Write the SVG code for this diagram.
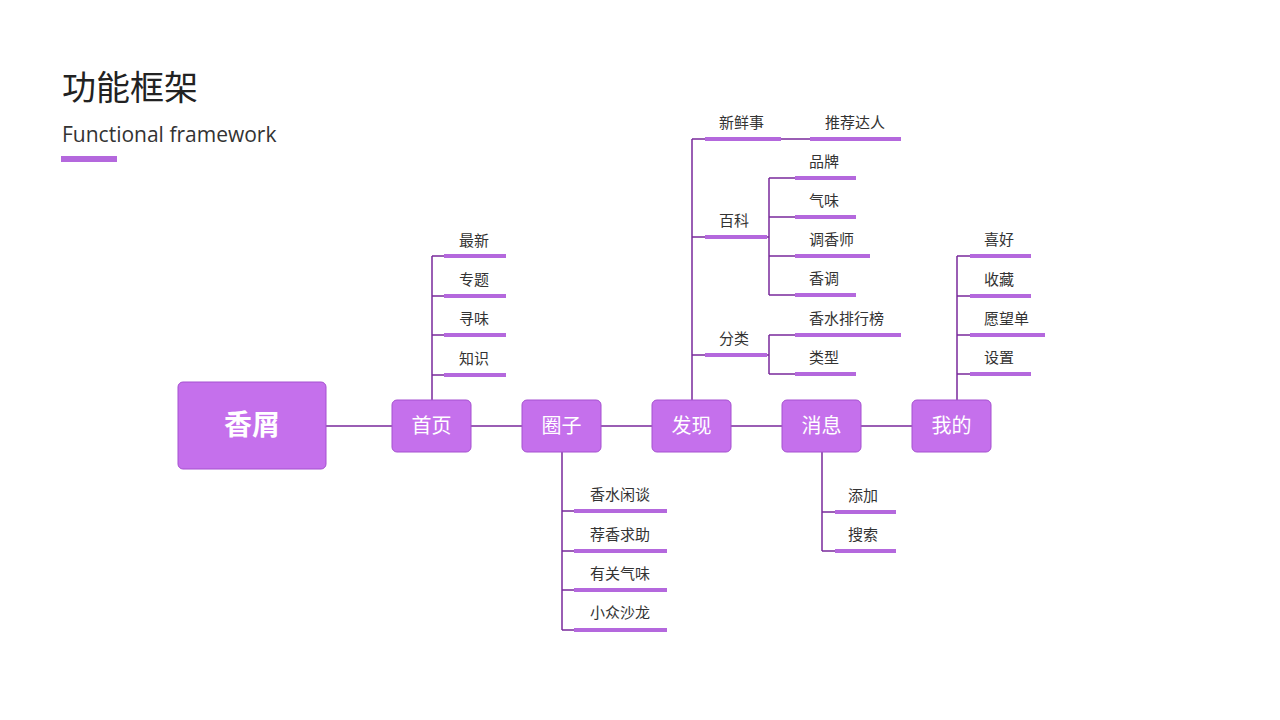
<svg xmlns="http://www.w3.org/2000/svg" width="1280" height="720" viewBox="0 0 1280 720">
<style>
text{font-family:"Noto Sans CJK SC","Liberation Sans",sans-serif}
.l{font-size:15px;fill:#333}
.bx{fill:#c570ec;stroke:#a550d0;stroke-width:1}
.bt{font-size:20px;fill:#fff;text-anchor:middle}
.bar{stroke:#b468dd;stroke-width:4}
.ln{stroke:#7a2a9c;stroke-width:1.5;fill:none}
</style>
<rect width="1280" height="720" fill="#fff"/>
<text x="62" y="100" font-size="34" fill="#222">功能框架</text>
<text x="62" y="142" font-size="21" fill="#333" style="font-family:'Open Sans','Liberation Sans',sans-serif">Functional framework</text>
<rect x="61" y="156" width="56" height="6" fill="#b468dd"/>
<g id="connectors">
<path class="ln" d="M326 426H912 M432 256V400 M432 256H444 M432 296H444 M432 335H444 M432 375H444 M562 452V630 M562 511H574 M562 551H574 M562 590H574 M562 630H574 M692 139V400 M692 139H705 M692 237H705 M692 355H705 M781 139H810 M767 237H769 M769 178V295 M769 178H795 M769 217H795 M769 256H795 M769 295H795 M767 355H769 M769 335V374 M769 335H795 M769 374H795 M822 452V551 M822 512H835 M822 551H835 M957 256V400 M957 256H970 M957 296H970 M957 335H970 M957 374H970"/>
<path class="bar" d="M444 256H506 M444 296H506 M444 335H506 M444 375H506 M574 511H667 M574 551H667 M574 590H667 M574 630H667 M705 139H781 M810 139H901 M705 237H767 M795 178H856 M795 217H856 M795 256H870 M795 295H856 M705 355H767 M795 335H901 M795 374H856 M835 512H896 M835 551H896 M970 256H1031 M970 296H1031 M970 335H1045 M970 374H1031"/>
</g>
<g id="root"><rect class="bx" x="178" y="382" width="148" height="87" rx="5"/><text x="252" y="435" font-size="28" font-weight="bold" fill="#fff" text-anchor="middle">香屑</text></g>
<g id="n1"><rect class="bx" x="392" y="400" width="79" height="52" rx="5"/><text class="bt" x="431.5" y="433">首页</text></g>
<g id="n2"><rect class="bx" x="522" y="400" width="79" height="52" rx="5"/><text class="bt" x="561.5" y="433">圈子</text></g>
<g id="n3"><rect class="bx" x="652" y="400" width="79" height="52" rx="5"/><text class="bt" x="691.5" y="433">发现</text></g>
<g id="n4"><rect class="bx" x="782" y="400" width="79" height="52" rx="5"/><text class="bt" x="821.5" y="433">消息</text></g>
<g id="n5"><rect class="bx" x="912" y="400" width="79" height="52" rx="5"/><text class="bt" x="951.5" y="433">我的</text></g>
<g id="labels">
<text class="l" x="459" y="246">最新</text><text class="l" x="459" y="285">专题</text><text class="l" x="459" y="324">寻味</text><text class="l" x="459" y="364">知识</text>
<text class="l" x="590" y="500">香水闲谈</text><text class="l" x="590" y="540">荐香求助</text><text class="l" x="590" y="579">有关气味</text><text class="l" x="590" y="618">小众沙龙</text>
<text class="l" x="719" y="128">新鲜事</text><text class="l" x="825" y="128">推荐达人</text>
<text class="l" x="719" y="226">百科</text><text class="l" x="719" y="344">分类</text>
<text class="l" x="809" y="167">品牌</text><text class="l" x="809" y="206">气味</text><text class="l" x="809" y="245">调香师</text><text class="l" x="809" y="284">香调</text>
<text class="l" x="809" y="324">香水排行榜</text><text class="l" x="809" y="363">类型</text>
<text class="l" x="848" y="501">添加</text><text class="l" x="848" y="540">搜索</text>
<text class="l" x="984" y="245">喜好</text><text class="l" x="984" y="285">收藏</text><text class="l" x="984" y="324">愿望单</text><text class="l" x="984" y="363">设置</text>
</g>
</svg>
